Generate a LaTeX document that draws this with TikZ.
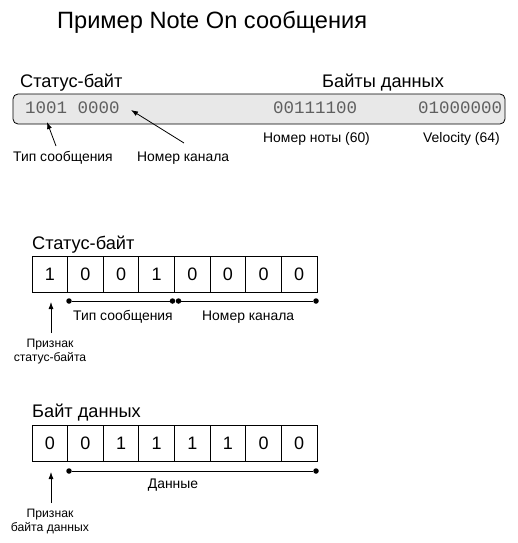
\documentclass[tikz,border=0pt]{standalone}
\usepackage{fontspec}
\setmainfont{Liberation Sans}
\newfontfamily\monof{Liberation Mono}
\usetikzlibrary{arrows.meta}
\definecolor{boxfill}{RGB}{232,232,232}
\definecolor{monogray}{RGB}{95,95,95}
\tikzset{
  title/.style={anchor=base west, inner sep=0pt, font=\fontsize{23.6}{28}\selectfont},
  header/.style={anchor=base west, inner sep=0pt, font=\fontsize{18.2}{22}\selectfont},
  lbl/.style={anchor=base west, inner sep=0pt, font=\fontsize{13.9}{16.5}\selectfont},
  small/.style={inner sep=0pt, font=\fontsize{12.2}{14}\selectfont, align=center},
  mono/.style={anchor=base west, inner sep=0pt, text=monogray, font=\monof\fontsize{17.5}{20}\selectfont},
  cell/.style={draw, line width=0.8pt, minimum width=35.625pt, minimum height=36pt, inner sep=0pt, font=\fontsize{18}{22}\selectfont},
  arr/.style={line width=0.8pt, -{Latex[length=7pt,width=5pt]}},
  span/.style={line width=0.8pt},
  dot/.style={circle, fill, inner sep=0pt, minimum size=5.5pt}
}
\begin{document}
\begin{tikzpicture}[x=1pt,y=-1pt]
\useasboundingbox (0,0) rectangle (518,543);
% title
\node[title] (ttl) at (57,29) {Пример Note On сообщения};
% top example
\node[header] (h1) at (20,87) {Статус-байт};
\node[header] (h2) at (322,87) {Байты данных};
\draw[line width=0.8pt, fill=boxfill, rounded corners=5pt] (13,94) rectangle (505,124);
\node[mono] (m1) at (25,113) {1001 0000};
\node[mono] (m2) at (273,113) {00111100};
\node[mono] (m3) at (418,113) {01000000};
\node[lbl] (l1) at (13,161) {Тип сообщения};
\node[lbl] (l2) at (137,161) {Номер канала};
\node[lbl] (l3) at (263,142) {Номер ноты (60)};
\node[lbl] (l4) at (423,142) {Velocity (64)};
\coordinate (a1s) at (56,146);
\coordinate (a1e) at (47,122);
\coordinate (a2s) at (184,143);
\coordinate (a2e) at (131,110);
\draw[arr] (a1s) -- (a1e);
\draw[arr] (a2s) -- (a2e);
% status byte
\node[header] (h3) at (32,249) {Статус-байт};
\foreach \b [count=\i from 0] in {1,0,0,1,0,0,0,0}
  \node[cell] (s\i) at (49.8+\i*35.625,274) {\b};
\node[dot] (d1) at (69,301) {};
\node[dot] (d2) at (172.5,301) {};
\node[dot] (d3) at (178.5,301) {};
\node[dot] (d4) at (316,301) {};
\draw[span] (d1) -- (d2);
\draw[span] (d3) -- (d4);
\node[lbl] (l5) at (73,320) {Тип сообщения};
\node[lbl] (l6) at (202,320) {Номер канала};
\node[small, anchor=north] (p1) at (50,339) {Признак\\статус-байта};
\coordinate (a3s) at (51,333);
\coordinate (a3e) at (51,302);
\draw[arr] (a3s) -- (a3e);
% data byte
\node[header] (h4) at (32,417) {Байт данных};
\foreach \b [count=\i from 0] in {0,0,1,1,1,1,0,0}
  \node[cell] (t\i) at (49.8+\i*35.625,443.5) {\b};
\node[dot] (d5) at (69,471) {};
\node[dot] (d6) at (316,471) {};
\draw[span] (d5) -- (d6);
\node[lbl, anchor=base] (l7) at (173,488) {Данные};
\node[small, anchor=north] (p2) at (50,509) {Признак\\байта данных};
\coordinate (a4s) at (51,503);
\coordinate (a4e) at (51,472);
\draw[arr] (a4s) -- (a4e);
\end{tikzpicture}
\end{document}
